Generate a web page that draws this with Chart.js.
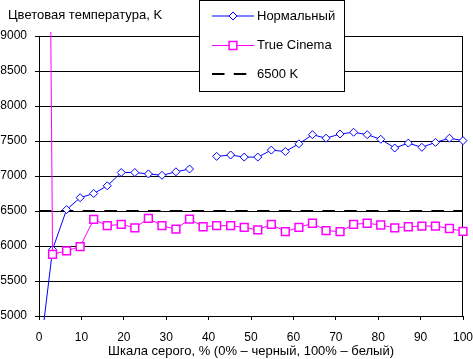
<!DOCTYPE html>
<html>
<head>
    <meta charset="utf-8">
    <title>Цветовая температура</title>
    <style>
        body { margin: 0; background: #fff; }
        canvas { display: block; }
    </style>
</head>
<body>
    <canvas id="chartId" width="473" height="359"></canvas>

    <script src="https://cdn.jsdelivr.net/npm/chart.js@4.4.1/dist/chart.umd.min.js"></script>

    <script>
        // grey levels, % (x values of every measured point)
        const grayLevels = [0, 3.2, 6.5, 9.7, 12.9, 16.1, 19.4, 22.6, 25.8, 29.0, 32.3, 35.5,
            38.7, 41.9, 45.2, 48.4, 51.6, 54.8, 58.1, 61.3, 64.5, 67.7, 71.0, 74.2,
            77.4, 80.6, 83.9, 87.1, 90.3, 93.5, 96.8, 100];
        // colour temperature, K
        const normalValues = [4340, 5950, 6520, 6690, 6750, 6860, 7050, 7050, 7030, 7010, 7060, 7100,
            null, 7280, 7300, 7270, 7270, 7370, 7350, 7460, 7590, 7540, 7600, 7625,
            7590, 7525, 7400, 7470, 7410, 7480, 7540, 7505];
        const cinemaValues = [30000, 5880, 5930, 5990, 6380, 6290, 6310, 6260, 6395, 6290, 6240, 6385,
            6275, 6290, 6290, 6265, 6230, 6310, 6205, 6265, 6325, 6220, 6205, 6310,
            6325, 6300, 6260, 6275, 6285, 6285, 6250, 6210];
        const refValue = 6500;
        const seriesNames = ['Нормальный', 'True Cinema', '6500 K'];
        const yMin = 5000, yMax = 9000, yStep = 500;
        const xMin = 0, xMax = 100, xStep = 10;
        const chartTitle = 'Цветовая температура, K';
        const xTitle = 'Шкала серого, % (0% – черный, 100% – белый)';

        const FONT = "'Liberation Sans', Arial, sans-serif";
        const toPoints = vals => vals.map((v, i) => ({ x: grayLevels[i], y: v }));

        // title, right frame line and the boxed legend drawn over the plot
        const decorations = {
            id: 'decorations',
            beforeDatasetsDraw(chart) {
                const { ctx, chartArea } = chart;
                ctx.save();
                ctx.strokeStyle = '#000';
                ctx.lineWidth = 1;
                ctx.beginPath();
                ctx.moveTo(Math.round(chartArea.right) - 0.5, chartArea.top);
                ctx.lineTo(Math.round(chartArea.right) - 0.5, chartArea.bottom);
                ctx.stroke();
                ctx.restore();
            },
            afterDraw(chart) {
                const ctx = chart.ctx;
                ctx.save();
                ctx.font = '13px ' + FONT;
                ctx.fillStyle = '#000';
                ctx.textBaseline = 'middle';
                ctx.fillText(chartTitle, 8, 15);

                // legend box
                ctx.fillStyle = '#fff';
                ctx.fillRect(199, 0, 146, 92);
                ctx.strokeStyle = '#000';
                ctx.lineWidth = 1;
                ctx.strokeRect(199.5, 0.5, 145, 91);

                const rows = [16, 45.5, 74];
                chart.data.datasets.forEach((ds, i) => {
                    const y = rows[i];
                    ctx.save();
                    ctx.strokeStyle = ds.borderColor;
                    ctx.lineWidth = ds.borderWidth;
                    ctx.setLineDash(ds.borderDash || []);
                    ctx.beginPath();
                    ctx.moveTo(212, y);
                    ctx.lineTo(ds.borderDash ? 248 : 254, y);
                    ctx.stroke();
                    ctx.setLineDash([]);
                    if (ds.pointRadius) {
                        ctx.fillStyle = ds.pointBackgroundColor;
                        ctx.strokeStyle = ds.pointBorderColor;
                        ctx.lineWidth = ds.pointBorderWidth;
                        ctx.beginPath();
                        if (ds.pointStyle === 'rectRot') {
                            const r = ds.pointRadius;
                            ctx.moveTo(233 - r, y);
                            ctx.lineTo(233, y - r);
                            ctx.lineTo(233 + r, y);
                            ctx.lineTo(233, y + r);
                            ctx.closePath();
                        } else {
                            const s = ds.pointRadius * Math.SQRT1_2;
                            ctx.rect(233 - s, y - s, 2 * s, 2 * s);
                        }
                        ctx.fill();
                        ctx.stroke();
                    }
                    ctx.restore();
                    ctx.fillStyle = '#000';
                    ctx.fillText(ds.label, 257, y);
                });
                ctx.restore();
            }
        };

        const chrt = document.getElementById('chartId').getContext('2d');
        const chartId = new Chart(chrt, {
            type: 'line',
            data: {
                datasets: [{
                    label: seriesNames[0],
                    data: toPoints(normalValues),
                    borderColor: '#0000ff',
                    borderWidth: 1,
                    pointStyle: 'rectRot',
                    pointRadius: 4,
                    pointBackgroundColor: '#fff',
                    pointBorderColor: '#0000ff',
                    pointBorderWidth: 1,
                    spanGaps: false,
                    clip: { left: 8, top: 4, right: 8, bottom: 4 },
                    order: 1
                }, {
                    label: seriesNames[1],
                    data: toPoints(cinemaValues),
                    borderColor: '#ff00ff',
                    borderWidth: 1,
                    pointStyle: 'rect',
                    pointRadius: 5.5,
                    pointBackgroundColor: '#fff',
                    pointBorderColor: '#ff00ff',
                    pointBorderWidth: 1.5,
                    clip: { left: 8, top: 4, right: 8, bottom: 4 },
                    order: 0
                }, {
                    label: seriesNames[2],
                    data: [{ x: grayLevels[0], y: refValue }, { x: grayLevels[grayLevels.length - 1], y: refValue }],
                    borderColor: '#000',
                    borderWidth: 2,
                    borderDash: [12.5, 9.3],
                    pointRadius: 0,
                    order: 2
                }]
            },
            options: {
                responsive: false,
                animation: false,
                layout: { padding: { top: 36, right: 0, left: 0, bottom: 0 } },
                plugins: {
                    legend: { display: false },
                    tooltip: { enabled: false }
                },
                scales: {
                    x: {
                        type: 'linear',
                        min: xMin,
                        max: xMax,
                        ticks: { stepSize: xStep, color: '#000', font: { family: FONT, size: 12 }, padding: 10, maxRotation: 0 },
                        grid: { drawOnChartArea: false, color: '#000', tickLength: 4 },
                        border: { color: '#000' },
                        title: { display: true, text: xTitle, color: '#000', font: { family: FONT, size: 13 }, padding: { top: 0, bottom: 0 } },
                        afterFit: s => { s.height = 43; s.paddingRight = 10; s.paddingLeft = 4; }
                    },
                    y: {
                        min: yMin,
                        max: yMax,
                        ticks: { stepSize: yStep, color: '#000', font: { family: FONT, size: 12 }, padding: 8, callback: v => String(v) },
                        grid: { color: '#000', tickLength: 4 },
                        border: { color: '#000' },
                        afterFit: s => { s.width = 39; }
                    }
                }
            },
            plugins: [decorations]
        });
    </script>
</body>
</html>
